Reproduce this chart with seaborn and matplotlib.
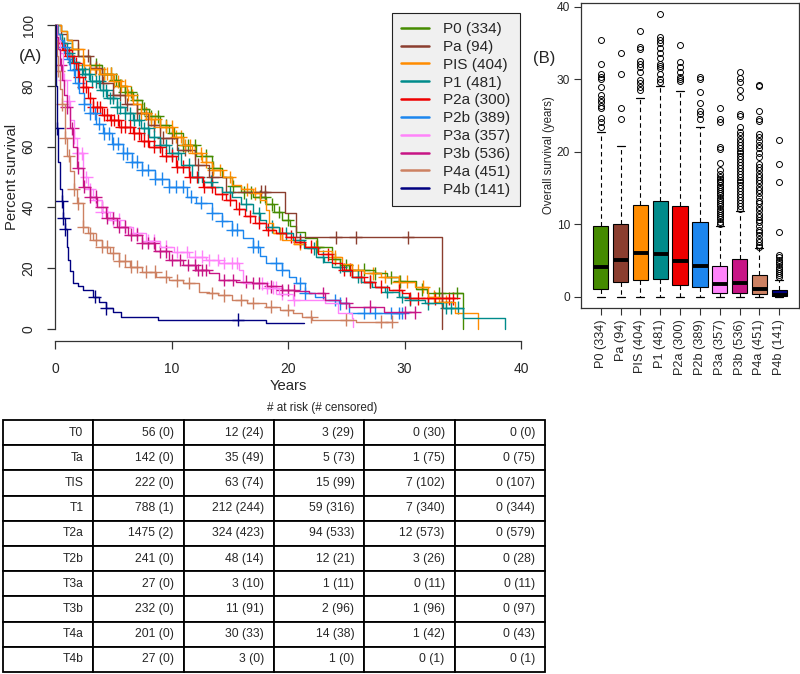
import numpy as np
import pandas as pd
import matplotlib
matplotlib.use("Agg")
import matplotlib.pyplot as plt
from matplotlib.lines import Line2D
import seaborn as sns

# ---------------- data ----------------
groups = ["P0", "Pa", "PIS", "P1", "P2a", "P2b", "P3a", "P3b", "P4a", "P4b"]
group_n = [334, 94, 404, 481, 300, 389, 357, 536, 451, 141]
colors = ["#458B00", "#8B3E2F", "#FF8C00", "#008B8B", "#EE0000",
          "#1C86EE", "#FF83FA", "#C71585", "#CD8162", "#000080"]

# Kaplan-Meier step curves (years, percent survival)
P0_t = [0, 0.5, 1.0, 1.5, 2.0, 3.0, 4.0, 5.0, 5.5, 6.0, 6.7, 7.5, 8.1, 9.0, 9.8, 11.0, 12.1, 13.5, 14.3, 15.2,
        16.0, 17.0, 18.1, 18.8, 19.5, 20.2, 20.7, 21.5, 22.5, 23.8, 24.5, 25.2, 27.5, 28.5, 29.5, 31.0, 31.9, 35.0]
P0_s = [100, 98, 95, 92, 90, 87, 84, 82, 80, 78, 75.5, 72.5, 70, 67, 64.5, 60.5, 57, 53, 50, 47,
        45, 43.5, 41, 38.5, 36, 34, 32, 30, 27, 23, 21, 19.5, 18.3, 17, 15.6, 13, 11.8, 0]
P0_cens = [3.5, 4.2, 4.8, 5.2, 5.6, 6.0, 6.5, 7.0, 7.6, 8.2, 8.8, 9.5, 10.2, 11.0, 11.4, 12.0, 13.0, 13.6,
           15.3, 16.2, 16.8, 17.6, 18.0, 18.6, 19.2, 20.0, 22.5, 24.0, 25.0, 26.5, 27.5, 28.8, 29.6, 31.5, 33.0, 34.5]

Pa_t = [0, 0.5, 1.0, 2.0, 3.0, 4.0, 5.0, 6.0, 7.0, 8.0, 9.0, 10.5, 12.0, 13.2, 14.7, 19.7, 20.7, 33.2]
Pa_s = [100, 97, 95, 90, 86, 81, 77, 74, 71, 67, 63, 59, 54, 50, 45.2, 38, 30.2, 0]
Pa_cens = [2.8, 3.5, 4.1, 5.0, 5.6, 6.2, 7.0, 7.8, 8.5, 9.3, 10.0, 11.2, 12.3, 13.5, 17.7, 18.0, 24.1, 25.8, 30.3]

PIS_t = [0, 0.5, 1.0, 1.5, 2.4, 3.0, 3.85, 5.0, 5.6, 6.2, 6.7, 7.4, 8.1, 9.0, 10.1, 11.0, 11.8, 12.6, 13.5, 14.4,
         15.2, 16.0, 17.0, 17.6, 18.1, 18.4, 18.7, 19.5, 20.5, 21.5, 22.6, 23.8, 24.6, 25.5, 26.5, 28.0, 29.5,
         30.9, 32.0, 33.0, 34.3, 36.3]
PIS_s = [100, 98, 95, 92, 87, 85.5, 84, 81.5, 80, 77, 74, 71, 69, 66.5, 63.3, 60.5, 57.8, 55, 52.3, 50,
         47.4, 46, 44.6, 42.5, 39, 35, 31.5, 29.3, 28, 27.1, 25.5, 23.8, 21.5, 19.4, 18.3, 17.2, 15.5,
         13.9, 10.6, 9, 5.2, 0]
PIS_cens = [1.5, 2.0, 2.5, 3.0, 3.4, 3.8, 4.2, 4.5, 4.8, 5.1, 5.4, 5.7, 6.0, 6.3, 6.6, 7.0, 7.4, 7.8, 8.2, 8.6,
            9.0, 9.5, 10.0, 10.4, 10.8, 11.2, 11.6, 12.0, 12.5, 13.0, 13.6, 14.2, 15.0, 16.5, 17.2, 19.3,
            21.0, 22.4, 24.0, 25.5, 26.0, 27.3, 28.3, 29.5, 30.2, 31.6, 32.5, 33.2, 33.6]

P1_t = [0, 0.3, 0.6, 1.0, 1.5, 2.0, 2.4, 3.0, 3.85, 4.5, 5.3, 6.0, 6.7, 7.4, 8.1, 9.0, 9.8, 10.8, 11.8, 12.6,
        13.5, 14.3, 15.2, 16.0, 17.0, 17.6, 18.1, 19.2, 20.4, 21.4, 22.4, 23.1, 23.8, 24.6, 25.5, 26.3, 27.2,
        28.3, 29.5, 30.5, 31.8, 33.3, 35.0, 38.6]
P1_s = [100, 97, 94, 90.7, 88, 85.5, 84, 81.5, 78.6, 76, 73, 71, 68.8, 66, 63.3, 60.5, 57.8, 54, 50, 48.5,
        46.8, 45, 43.5, 41, 38, 36, 33.7, 31.5, 29.3, 26.5, 23.8, 22, 20.5, 19, 17.2, 15.5, 13.9,
        12.2, 10.6, 9.5, 8.4, 7.0, 3.7, 0]
P1_cens = [0.8, 1.2, 1.6, 2.0, 2.3, 2.6, 2.9, 3.2, 3.5, 3.8, 4.1, 4.4, 4.7, 5.0, 5.3, 5.6, 6.0, 6.4, 6.8, 7.2,
           7.6, 8.0, 8.5, 9.0, 9.5, 10.0, 10.6, 11.5, 12.3, 13.4, 15.0, 16.4, 17.5, 18.6, 19.8, 21.0, 22.2,
           23.0, 24.5, 26.0, 27.0, 28.5, 29.8, 30.5, 32.0, 33.6, 34.0, 34.6]

P2a_t = [0, 0.2, 0.4, 0.7, 1.0, 1.55, 2.0, 2.4, 2.8, 3.3, 4.0, 4.7, 5.5, 6.7, 7.4, 8.1, 9.2, 10.4, 11.5, 12.7,
         13.7, 14.7, 15.5, 16.3, 17.2, 18.1, 19.0, 19.8, 20.6, 21.5, 22.6, 23.8, 24.6, 25.5, 26.5, 27.5, 28.7,
         29.8, 30.4, 34.4]
P2a_s = [100, 97, 94, 91.8, 90, 87.5, 83, 79.7, 76, 73, 70.5, 68.8, 66.5, 64.4, 62, 60, 57, 53.4, 50, 46.8,
         44.5, 42.4, 39.5, 37, 35, 32.6, 31.5, 30.4, 28.7, 27.1, 24.5, 21.6, 19.5, 17.2, 15.5, 13.9, 12.8,
         11.7, 10, 10]
P2a_cens = [0.6, 0.9, 1.2, 1.5, 1.8, 2.1, 2.4, 2.7, 3.0, 3.3, 3.6, 3.9, 4.2, 4.5, 4.8, 5.1, 5.4, 5.7, 6.0, 6.4,
            6.8, 7.2, 7.6, 8.0, 8.5, 9.0, 9.5, 10.0, 10.5, 11.0, 11.6, 12.2, 12.8, 13.5, 14.3, 15.0, 15.8,
            16.7, 17.5, 18.3, 19.5, 20.3, 21.0, 22.0, 23.4, 24.8, 25.3, 26.3, 27.0, 28.0, 29.5, 30.5, 31.2,
            32.0, 32.6, 33.2, 33.8, 34.2]

P2b_t = [0, 0.2, 0.4, 0.7, 1.0, 1.3, 1.7, 2.1, 2.5, 3.0, 3.5, 4.1, 4.9, 5.8, 6.6, 7.5, 8.6, 9.8, 11.3, 12.1,
         13.5, 14.3, 15.2, 16.1, 17.0, 17.6, 18.1, 19.5, 20.1, 20.7, 21.5, 22.3, 23.2, 24.4, 25.2, 29.8]
P2b_s = [100, 97, 95, 92.9, 89, 85.2, 81, 77.5, 74, 71, 67.5, 64.4, 61, 57.8, 55, 52.3, 49.5, 46.8, 43.5, 41.5,
         38, 35.5, 32.6, 30, 27.1, 24, 21.6, 19.4, 17, 15, 11.7, 10.5, 9.5, 8.4, 5.2, 5.2]
P2b_cens = [0.8, 1.2, 1.6, 2.0, 2.5, 3.0, 3.4, 3.8, 4.2, 4.6, 5.0, 5.4, 5.8, 6.2, 6.6, 7.0, 7.5, 8.0, 8.6, 9.2,
            9.8, 10.4, 11.0, 11.7, 12.5, 13.5, 14.3, 15.2, 15.6, 17.0, 17.4, 19.0, 19.5, 21.0, 21.5, 24.0,
            24.5, 26.5, 27.5, 28.8, 29.5, 29.8]

P3a_t = [0, 0.2, 0.4, 0.7, 1.0, 1.3, 1.6, 1.9, 2.4, 2.8, 3.3, 4.0, 4.7, 5.6, 6.7, 7.8, 9.0, 10.2, 11.5, 13.0,
         14.1, 15.8, 16.1, 18.1, 19.2, 20.4, 23.2, 24.3, 25.5, 25.6]
P3a_s = [100, 95, 90.7, 82, 75, 68.8, 63, 57.8, 50, 46, 42.4, 38.5, 35.9, 33.5, 31.5, 29, 27, 25.3, 23.7, 22.7,
         21.7, 19.4, 15.0, 13.5, 11.5, 9.5, 8.5, 5.2, 3.5, 0.7]
P3a_cens = [0.8, 1.2, 1.6, 2.0, 2.3, 2.7, 3.0, 3.5, 4.0, 4.5, 5.0, 5.5, 6.0, 7.0, 8.0, 8.5, 9.5, 10.5, 11.3,
            12.0, 12.6, 13.2, 14.0, 14.5, 15.2, 15.6, 17.8, 18.2, 18.7, 19.0, 19.5, 20.5]

P3b_t = [0, 0.1, 0.25, 0.4, 0.6, 0.8, 1.0, 1.3, 1.55, 1.9, 2.4, 3.0, 3.6, 4.4, 5.3, 6.3, 7.5, 8.6, 9.8, 11.0,
         12.1, 13.2, 14.1, 15.5, 16.9, 18.2, 19.5, 20.6, 21.8, 23.2, 24.5, 25.2, 28.2, 30.9]
P3b_s = [100, 96, 92, 87, 82, 77, 73, 66, 60, 53, 46.8, 43.5, 40.1, 36.5, 33.6, 31, 28.3, 25.5, 22.7, 21,
         19.4, 18.4, 16.1, 15.5, 15.1, 14, 12.8, 12.3, 11.8, 9.5, 8.5, 7.3, 5.5, 5.5]
P3b_cens = [0.5, 1.0, 1.5, 2.0, 2.5, 3.0, 3.5, 4.0, 4.5, 5.0, 5.5, 6.0, 6.5, 7.0, 7.5, 8.0, 8.5, 9.0, 9.5, 10.0,
            10.7, 11.4, 12.0, 12.3, 12.6, 13.0, 14.5, 15.3, 16.4, 17.0, 17.5, 18.5, 19.5, 20.0, 20.5, 23.0,
            25.0, 27.0, 30.0, 30.9]

P4a_t = [0, 0.1, 0.2, 0.3, 0.45, 0.6, 0.85, 1.05, 1.3, 1.6, 1.9, 2.4, 2.8, 3.3, 4.0, 4.7, 5.5, 6.4, 7.5, 8.7,
         9.8, 11.0, 12.4, 13.2, 14.0, 15.2, 16.5, 18.1, 19.3, 20.4, 21.2, 22.1, 25.8, 28.9]
P4a_s = [100, 95, 90, 85, 79, 74, 63, 57, 52, 46, 41.3, 33.6, 31.5, 29.3, 27, 24.9, 22.5, 20.5, 18.8, 17.2,
         16, 15.1, 12.2, 11.8, 11, 9.5, 8.5, 7.3, 6.2, 5.2, 4, 3.0, 2.4, 2.4]
P4a_cens = [0.3, 0.6, 0.9, 1.2, 1.6, 2.0, 2.4, 3.0, 3.5, 4.0, 4.5, 5.0, 5.5, 6.0, 6.5, 7.0, 7.8, 8.6, 9.5,
            10.5, 11.5, 13.5, 14.5, 16.0, 17.0, 18.5, 20.0, 22.0, 25.0, 28.0, 28.9]

P4b_t = [0, 0.05, 0.1, 0.15, 0.3, 0.45, 0.57, 0.71, 0.85, 1.0, 1.14, 1.3, 1.57, 2.0, 2.4, 3.3, 3.8, 4.4, 5.0,
         5.7, 8.8, 18.1, 21.4]
P4b_s = [100, 90, 80, 66, 55, 46, 42, 36.4, 32.8, 27, 22.7, 19, 15, 14, 12.8, 10.6, 9, 6.8, 5.5,
         4, 3, 1.8, 1.8]
P4b_cens = [0.2, 0.57, 0.71, 0.85, 3.4, 4.4, 15.7]

curve_t = [P0_t, Pa_t, PIS_t, P1_t, P2a_t, P2b_t, P3a_t, P3b_t, P4a_t, P4b_t]
curve_s = [P0_s, Pa_s, PIS_s, P1_s, P2a_s, P2b_s, P3a_s, P3b_s, P4a_s, P4b_s]
curve_c = [P0_cens, Pa_cens, PIS_cens, P1_cens, P2a_cens, P2b_cens, P3a_cens, P3b_cens, P4a_cens, P4b_cens]

# Boxplot summary (years)
box_q1 = [1.15, 2.1, 2.3, 2.5, 1.65, 1.35, 0.6, 0.6, 0.37, 0.1]
box_med = [4.2, 5.1, 6.0, 5.95, 5.0, 4.25, 1.8, 1.9, 1.15, 0.3]
box_q3 = [9.8, 10.0, 12.75, 13.2, 12.6, 10.4, 4.3, 5.2, 3.0, 1.0]
box_lo = [0.0, 0.0, 0.0, 0.0, 0.0, 0.0, 0.0, 0.0, 0.0, 0.02]
box_hi = [22.7, 20.8, 27.5, 29.1, 28.4, 23.5, 9.8, 11.9, 6.8, 2.3]
out_P0 = [35.5, 32.2, 30.7, 30.3, 30.0, 29.0, 27.8, 27.3, 26.9, 26.4, 26.1, 24.7, 24.1, 23.5]
out_Pa = [33.6, 30.7, 26.1, 24.5]
out_PIS = [36.7, 34.5, 34.2, 32.6, 32.2, 31.7, 31.0, 29.9, 29.5, 28.9, 28.5]
out_P1 = [39.0, 35.8, 35.4, 35.0, 34.4, 33.6, 32.9, 32.2, 31.9, 31.6, 30.7, 30.0, 29.6]
out_P2a = [34.8, 32.4, 31.7, 31.1, 30.3, 30.0, 29.8]
out_P2b = [30.3, 30.0, 28.3, 26.8, 25.7, 25.2, 24.6]
out_P3a = [26.0, 24.6, 24.2, 20.7, 20.4, 18.5, 17.5, 17.0, 16.6, 16.3, 16.0, 15.8, 15.5, 15.2, 14.9, 14.6,
           14.3, 14.0, 13.7, 13.4, 13.1, 12.8, 12.5, 12.2, 11.9, 11.6, 11.3, 11.0, 10.7, 10.4, 10.1]
out_P3b = [31.0, 30.2, 29.6, 28.6, 27.6, 25.2, 24.9, 23.4, 22.8, 22.3, 21.8, 21.4, 21.0, 20.6, 20.2, 19.8,
           19.4, 19.0, 18.6, 18.2, 17.8, 17.4, 17.0, 16.6, 16.2, 15.8, 15.4, 15.0, 14.6, 14.2, 13.8, 13.4,
           13.0, 12.6, 12.2]
out_P4a = [29.3, 29.1, 25.7, 24.6, 24.3, 22.5, 22.0, 21.5, 21.0, 20.5, 19.8, 19.3, 18.4, 17.9, 17.5, 17.0,
           16.6, 16.2, 15.7, 15.2, 14.8, 14.3, 13.8, 13.3, 12.9, 12.4, 12.0, 11.5, 11.0, 10.6, 10.3, 9.8,
           9.3, 8.9, 8.5, 8.0, 7.6, 7.2, 6.9]
out_P4b = [21.6, 18.4, 15.8, 9.0, 5.8, 5.5, 5.1, 4.8, 4.5, 4.2, 3.9, 3.6, 3.3, 3.0, 2.7]
box_out = [out_P0, out_Pa, out_PIS, out_P1, out_P2a, out_P2b, out_P3a, out_P3b, out_P4a, out_P4b]

# Risk table
row_labels = ["T0", "Ta", "TIS", "T1", "T2a", "T2b", "T3a", "T3b", "T4a", "T4b"]
risk_0 = [56, 142, 222, 788, 1475, 241, 27, 232, 201, 27]
cens_0 = [0, 0, 0, 1, 2, 0, 0, 0, 0, 0]
risk_10 = [12, 35, 63, 212, 324, 48, 3, 11, 30, 3]
cens_10 = [24, 49, 74, 244, 423, 14, 10, 91, 33, 0]
risk_20 = [3, 5, 15, 59, 94, 12, 1, 2, 14, 1]
cens_20 = [29, 73, 99, 316, 533, 21, 11, 96, 38, 0]
risk_30 = [0, 1, 7, 7, 12, 3, 0, 1, 1, 0]
cens_30 = [30, 75, 102, 340, 573, 26, 11, 96, 42, 1]
risk_40 = [0, 0, 0, 0, 0, 0, 0, 0, 0, 0]
cens_40 = [0, 75, 107, 344, 579, 28, 11, 97, 43, 1]

# ---------------- figure ----------------
sns.set_theme(style="white")
plt.rcParams["font.family"] = ["Liberation Sans", "DejaVu Sans"]
W, H = 800, 674
fig = plt.figure(figsize=(W / 100, H / 100), dpi=100)
fig.patch.set_facecolor("white")


def fx(px):
    return px / W


def fy(py):
    return 1 - py / H


labels = [f"{g} ({n})" for g, n in zip(groups, group_n)]
palette = dict(zip(labels, colors))

km_rows, cens_rows = [], []
for lab, t, s, c in zip(labels, curve_t, curve_s, curve_c):
    for ti, si in zip(t, s):
        km_rows.append((lab, ti, si))
    ta, sa = np.asarray(t), np.asarray(s)
    for ci in c:
        idx = np.searchsorted(ta, ci, side="right") - 1
        cens_rows.append((lab, ci, sa[idx]))
km = pd.DataFrame(km_rows, columns=["group", "t", "S"])
cens = pd.DataFrame(cens_rows, columns=["group", "t", "S"])

# ---- Panel A : KM curves ----
axA = fig.add_axes([fx(55), fy(341), fx(521) - fx(55), fy(13) - fy(341)])
sns.lineplot(data=km, x="t", y="S", hue="group", hue_order=labels, palette=palette,
             estimator=None, sort=False, drawstyle="steps-post", linewidth=1.0,
             legend=False, ax=axA)
sns.scatterplot(data=cens, x="t", y="S", hue="group", hue_order=labels, palette=palette,
                marker="+", s=85, linewidth=1.0, legend=False, ax=axA)
axA.set_xlim(0, 40)
axA.set_ylim(-4, 104)
for sp in ["top", "right"]:
    axA.spines[sp].set_visible(False)
axA.spines["left"].set_bounds(0, 100)
axA.spines["bottom"].set_bounds(0, 40)
for sp in ["left", "bottom"]:
    axA.spines[sp].set_color("#333333")
    axA.spines[sp].set_linewidth(0.9)
axA.set_xticks([0, 10, 20, 30, 40])
axA.set_xticklabels(["0", "10", "20", "30", "40"], fontsize=10)
axA.set_yticks([0, 20, 40, 60, 80, 100])
axA.set_yticklabels(["0", "20", "40", "60", "80", "100"], fontsize=10, rotation=90, va="center")
axA.tick_params(axis="x", bottom=True, length=6, width=0.9, color="#333333", pad=9)
axA.tick_params(axis="y", left=True, length=6, width=0.9, color="#333333", pad=8)
axA.set_xlabel("Years", fontsize=10.7)
axA.set_ylabel("Percent survival", fontsize=10.7)
axA.xaxis.set_label_coords(0.5, (341 - 379) / 328)
axA.yaxis.set_label_coords((19 - 55) / 466, 0.5)

handles = [Line2D([0], [0], color=c, lw=1.8) for c in colors]
leg = axA.legend(handles, labels, loc="upper left", bbox_to_anchor=(fx(392), fy(13)),
                 bbox_transform=fig.transFigure, frameon=True, fancybox=False,
                 edgecolor="#222222", facecolor="#f0f0f0", framealpha=1, fontsize=11,
                 handlelength=1.85, handletextpad=0.9, labelspacing=0.25,
                 borderpad=0.6, borderaxespad=0)
leg.get_frame().set_linewidth(0.8)

fig.text(fx(30), fy(57), "(A)", fontsize=12.5, ha="center", va="center")

# ---- Panel B : boxplots ----
axB = fig.add_axes([fx(581), fy(308), fx(799) - fx(581), fy(3) - fy(308)])
stats = []
for lab, q1, md, q3, lo, hi, fl in zip(groups, box_q1, box_med, box_q3, box_lo, box_hi, box_out):
    stats.append(dict(label=lab, q1=q1, med=md, q3=q3, whislo=lo, whishi=hi, fliers=fl))
bp = axB.bxp(stats, positions=list(range(1, 11)), widths=0.77, capwidths=0.4,
             patch_artist=True, showfliers=True,
             boxprops=dict(edgecolor="black", linewidth=0.8),
             medianprops=dict(color="black", linewidth=2.8, solid_capstyle="butt"),
             whiskerprops=dict(color="black", linewidth=0.8, linestyle=(0, (4, 3))),
             capprops=dict(color="black", linewidth=0.9),
             flierprops=dict(marker="o", markerfacecolor="none", markeredgecolor="black",
                             markersize=4.3, markeredgewidth=0.7))
for patch, c in zip(bp["boxes"], colors):
    patch.set_facecolor(c)
axB.set_xlim(0.0, 11.0)
axB.set_ylim(-1.52, 40.55)
axB.set_yticks([0, 10, 20, 30, 40])
axB.set_yticklabels(["0", "10", "20", "30", "40"], fontsize=8.6)
axB.set_xticks(list(range(1, 11)))
axB.set_xticklabels(labels, rotation=90, fontsize=9.2, va="top", ha="center")
axB.tick_params(axis="both", bottom=True, left=True, length=5, width=0.8, color="#333333", pad=3)
for sp in axB.spines.values():
    sp.set_visible(True)
    sp.set_color("#333333")
    sp.set_linewidth(0.9)
axB.set_ylabel("Overall survival (years)", fontsize=8.3)
axB.yaxis.set_label_coords((555 - 581) / 218, 0.5)
fig.text(fx(544), fy(58), "(B)", fontsize=12, ha="center", va="center")

# ---- Risk table ----
cells = []
for i in range(len(row_labels)):
    cells.append([row_labels[i],
                  f"{risk_0[i]} ({cens_0[i]})",
                  f"{risk_10[i]} ({cens_10[i]})",
                  f"{risk_20[i]} ({cens_20[i]})",
                  f"{risk_30[i]} ({cens_30[i]})",
                  f"{risk_40[i]} ({cens_40[i]})"])
axT = fig.add_axes([fx(3), fy(672), fx(545) - fx(3), fy(420) - fy(672)])
axT.axis("off")
tbl = axT.table(cellText=cells, cellLoc="right", bbox=[0, 0, 1, 1])
tbl.auto_set_font_size(False)
tbl.set_fontsize(8.7)
for (r, c), cell in tbl.get_celld().items():
    cell.set_linewidth(1.3)
    cell.set_edgecolor("black")
    cell.PAD = 0.11
fig.text(fx(322), fy(408), "# at risk (# censored)", fontsize=8.5, ha="center", va="center")

fig.savefig("out.png", dpi=100, facecolor="white")
